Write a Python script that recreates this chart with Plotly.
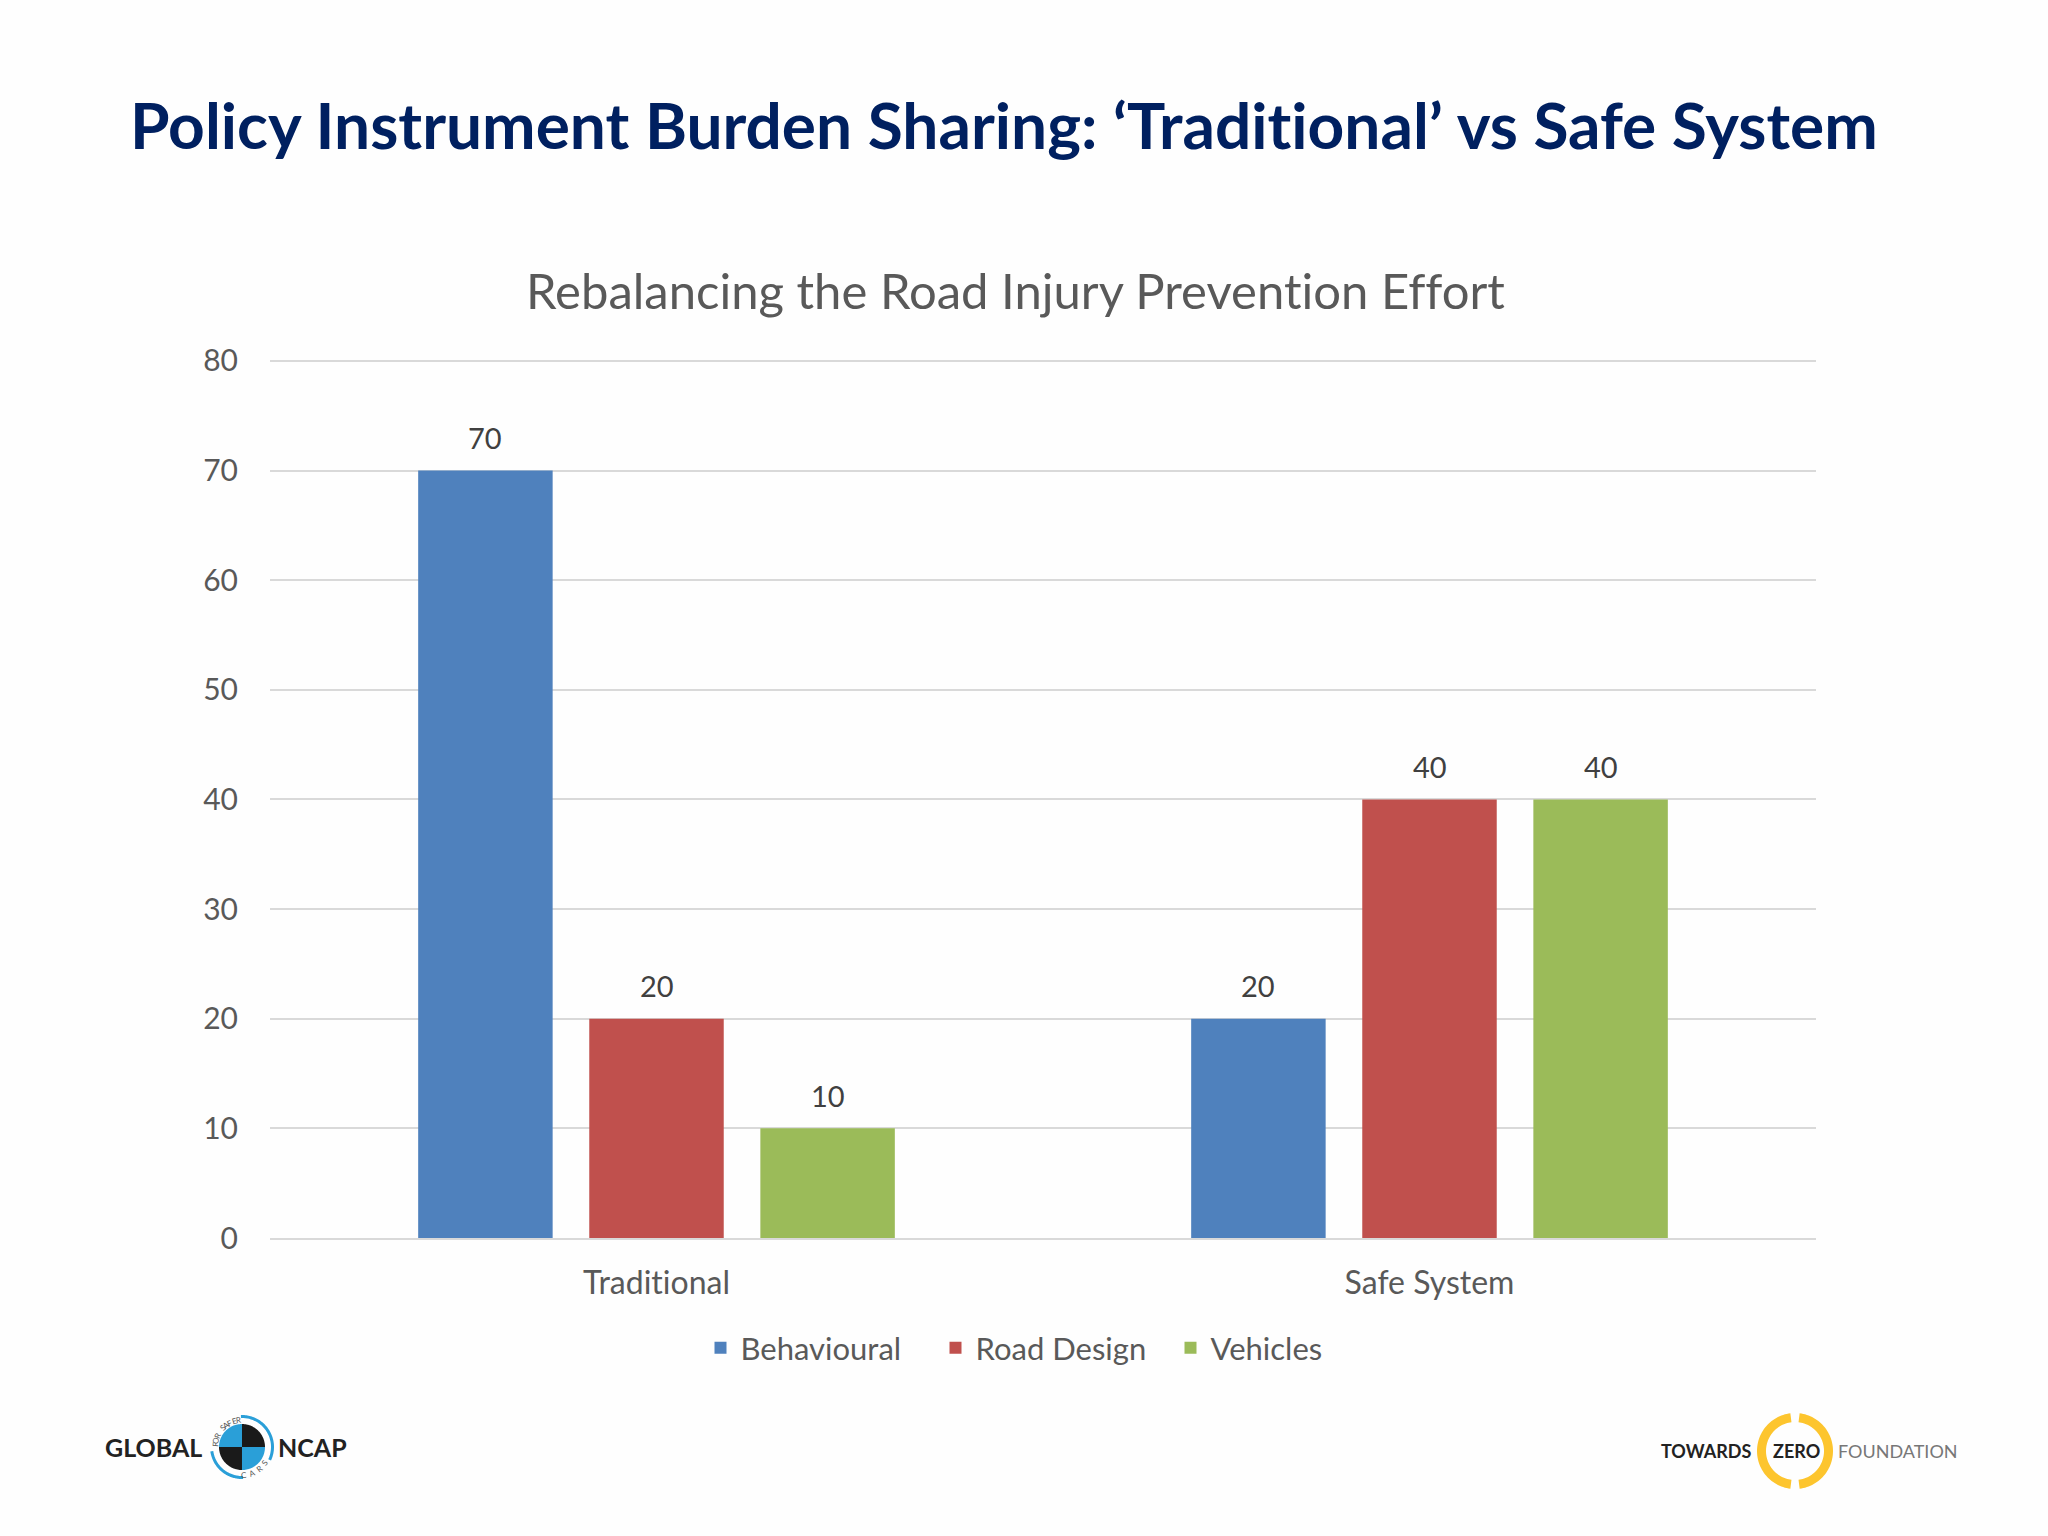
import numpy as np
import plotly.graph_objects as go

W = 2048
H = 1536

categories = ['Traditional', 'Safe System']
behavioural = [70, 20]
road_design = [20, 40]
vehicles = [10, 40]
tick_vals = [0, 10, 20, 30, 40, 50, 60, 70, 80]

FONT = 'Lato'
GREY = '#595959'
BARGAP = 0.336
GROUPGAP = 0.214


# page pixels to paper coordinates
def px(x):
    return x / W


def py(y):
    return 1 - y / H


def plain(text):
    # the source font has no ti ligature, so switch it off in Lato
    return f'<span style="font-variant-ligatures:none">{text}</span>'


def arc_path(cx, cy, r0, r1, a0, a1):
    # ring segment as a polygon, angles in degrees, counter clockwise from east
    ang = np.radians(np.linspace(a0, a1, 60))
    outer = [(cx + r1 * np.cos(a), cy - r1 * np.sin(a)) for a in ang]
    inner = [(cx + r0 * np.cos(a), cy - r0 * np.sin(a)) for a in ang[::-1]]
    pts = outer + inner
    return 'M' + 'L'.join(f'{px(x):.5f},{py(y):.5f}' for x, y in pts) + 'Z'


def logo_text(x, y, text, size, color, weight='bold', anchor='left', angle=0, family=FONT):
    return dict(x=px(x), y=py(y), xref='paper', yref='paper', text=text, showarrow=False,
                xanchor=anchor, yanchor='middle', textangle=angle,
                font=dict(family=family, size=size, color=color, weight=weight))


series = [('Behavioural', behavioural, '#4F81BD'),
          ('Road Design', road_design, '#C0504D'),
          ('Vehicles', vehicles, '#9BBB59')]

fig = go.Figure()
annotations = []
shapes = []

slot = (1 - BARGAP) / len(series)
for i, (name, values, colour) in enumerate(series):
    fig.add_trace(go.Bar(name=name, x=categories, y=values, marker_color=colour, marker_line_width=0))
    # value labels sit higher above the bars than plotly's outside text does
    for j, v in enumerate(values):
        annotations.append(dict(x=j + (i - 1) * slot, y=v, xref='x', yref='y', text=str(v),
                                showarrow=False, yanchor='middle', yshift=33,
                                font=dict(family=FONT, size=29, color='#404040')))

# chart title
annotations.append(dict(x=px(1015), y=py(290), xref='paper', yref='paper', showarrow=False,
                        text=plain('Rebalancing the Road Injury Prevention Effort'), xanchor='center',
                        yanchor='middle', font=dict(family=FONT, size=49, color=GREY)))

# global ncap logo
ncx, ncy = 242, 1447
ncap_blue = '#2A9FD8'
ncap_black = '#1A1A1A'
for a0, a1, colour in [(90, 180, ncap_blue), (0, 90, ncap_black), (180, 270, ncap_black), (270, 360, ncap_blue)]:
    shapes.append(dict(type='path', xref='paper', yref='paper', line_width=0, fillcolor=colour,
                       path=arc_path(ncx, ncy, 0, 23, a0, a1)))
for a0, a1 in [(-25, 92), (188, 272)]:
    shapes.append(dict(type='path', xref='paper', yref='paper', line_width=0, fillcolor=ncap_blue,
                       path=arc_path(ncx, ncy, 29, 32, a0, a1)))
annotations.append(logo_text(103, 1447, 'GLOBAL', 25, '#222222'))
annotations.append(logo_text(276, 1447, 'NCAP', 25, '#222222'))
for ch, a in zip('FOR SAFER', np.linspace(175, 97, 9)):
    annotations.append(logo_text(ncx + 27 * np.cos(np.radians(a)), ncy - 27 * np.sin(np.radians(a)),
                                 ch, 8, '#555555', weight='normal', anchor='center', angle=90 - a))
for ch, a in zip('CARS', [-85, -68, -52, -36]):
    annotations.append(logo_text(ncx + 28 * np.cos(np.radians(a)), ncy - 28 * np.sin(np.radians(a)),
                                 ch, 8, '#555555', weight='normal', anchor='center', angle=-90 - a))

# towards zero logo
tzx, tzy = 1795, 1451
tz_yellow = '#FDC52E'
for a0, a1 in [(-83, 83), (97, 263)]:
    shapes.append(dict(type='path', xref='paper', yref='paper', line_width=0, fillcolor=tz_yellow,
                       path=arc_path(tzx, tzy, 29, 38, a0, a1)))
annotations.append(logo_text(1659, 1451, 'TOWARDS', 18, '#222222'))
annotations.append(logo_text(1771, 1451, 'ZERO', 18, '#222222'))
annotations.append(logo_text(1836, 1451, 'FOUNDATION', 18, '#777777', weight='normal'))

fig.update_layout(
    width=W,
    height=H,
    margin=dict(l=0, r=0, t=0, b=0),
    paper_bgcolor='#FEFEFE',
    plot_bgcolor='#FEFEFE',
    barmode='group',
    bargap=BARGAP,
    bargroupgap=GROUPGAP,
    title=dict(text=plain('Policy Instrument Burden Sharing: ‘Traditional’ vs Safe System'),
               x=px(130), xanchor='left', xref='paper', y=py(127), yanchor='middle', yref='paper',
               automargin=False,
               font=dict(family=FONT, size=64, color='#002060', weight='bold')),
    legend=dict(orientation='h', x=px(1053), xanchor='center', y=py(1348), yanchor='middle',
                font=dict(family=FONT, size=31, color=GREY), bgcolor='rgba(0,0,0,0)',
                traceorder='normal', entrywidth=190),
    xaxis=dict(domain=[px(270), px(1816)], showgrid=False, showline=True, linecolor='#D9D9D9',
               linewidth=2, ticks='', automargin=False, ticklabelstandoff=16,
               tickvals=categories, ticktext=[plain(c) for c in categories],
               tickfont=dict(family=FONT, size=32, color=GREY)),
    # range runs a hair past 80 so the top gridline is not dropped at the plot edge
    yaxis=dict(domain=[py(1238), py(359)], range=[0, 80.18], tickvals=tick_vals, gridcolor='#D9D9D9',
               gridwidth=2, zeroline=False, showline=False, ticks='', automargin=False,
               ticklabelstandoff=31, tickfont=dict(family=FONT, size=30, color=GREY)),
    shapes=shapes,
    annotations=annotations,
)

# drop the browser's default 8px body margin so page pixels line up
fig.write_html('out.html', config={'displayModeBar': False},
               post_script='document.body.style.margin = "0";')
